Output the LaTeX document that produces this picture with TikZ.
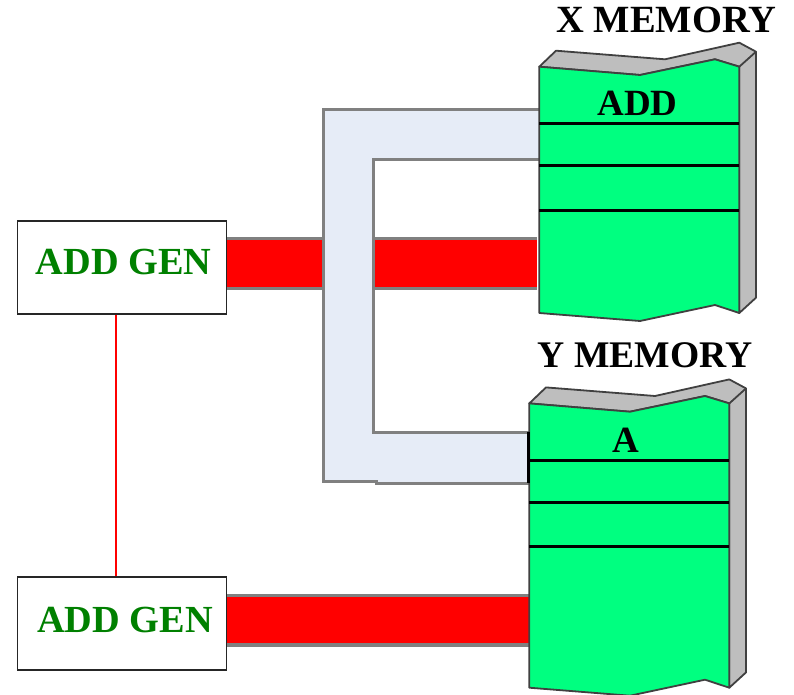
\documentclass[tikz,border=0pt]{standalone}
\usepackage{fontspec}
\setmainfont{Liberation Serif}
\usetikzlibrary{calc,positioning}

\definecolor{memgreen}{HTML}{00FF80}
\definecolor{memside}{HTML}{BEBEBE}
\definecolor{busblue}{HTML}{E6ECF7}
\definecolor{busedge}{HTML}{808080}
\definecolor{gentext}{HTML}{008000}

\tikzset{
  genbox/.style={draw=black!85,line width=1.8pt,fill=white,minimum width=209pt,minimum height=93pt,inner sep=0,text depth=10pt,text=gentext,font=\fontsize{38.3}{38}\selectfont\bfseries},
  memlabel/.style={anchor=base,inner sep=0,font=\fontsize{38.5}{38}\selectfont\bfseries},
  rowlabel/.style={anchor=base,inner sep=0,font=\fontsize{37}{37}\selectfont\bfseries},
  memline/.style={draw=black!75,line width=1.8pt,line join=round},
  rowline/.style={black,line width=3pt},
}

% #1 = shift, #2 = height added to the lower edge
\newcommand{\drawmemory}[2]{
\begin{scope}[shift={(#1)}]
\fill[memside,memline] (539.3,66.7) -- (556,50.7) -- (665,59.3) -- (739.3,42.7) -- (756,51.7) -- (756,297.7+#2) -- (739.3,313+#2) -- (739.3,66.7) -- (715,59.3) -- (640,75) -- cycle;
\fill[memgreen,memline] (539.3,66.7) -- (640,75) -- (715,59.3) -- (739.3,66.7) -- (739.3,313+#2) -- (715,305+#2) -- (640,321+#2) -- (539.3,313+#2) -- cycle;
\draw[memline] (739.3,66.7) -- (756,51.7);
\draw[rowline] (539.3,123.3) -- (739.3,123.3);
\draw[rowline] (539.3,165.7) -- (739.3,165.7);
\draw[rowline] (539.3,210) -- (739.3,210);
\end{scope}
}

\begin{document}
\begin{tikzpicture}[x=1pt,y=-1pt]
\useasboundingbox (0,0) rectangle (794,695);

% Nodes
\node[genbox] (gen1) at (122,267.3) {\hspace*{3pt}ADD GEN};
\node[genbox,text depth=7pt] (gen2) at (122,623.5) {\hspace*{6pt}ADD GEN};
\coordinate (link) at (115.6,450);
\coordinate (xbus-end) at (537,263.5);
\coordinate (ybus-end) at (529,620);

% The link between the generators
\draw[red,line width=1.8pt] (gen1.south -| link) -- (gen2.north -| link);

% The red buses
\draw[busedge,line width=53pt] (gen1.east |- xbus-end) -- (xbus-end);
\draw[red,line width=46.5pt] (gen1.east |- xbus-end) -- (xbus-end);
\draw[busedge,line width=53pt] (gen2.east |- ybus-end) -- (ybus-end);
\draw[red,line width=46.5pt] (gen2.east |- ybus-end) -- (ybus-end);

% The shared bus
\fill[busblue,draw=busedge,line width=3pt] (541,110) -- (323,110) -- (323,481) -- (376,481) -- (376,483) -- (530,483) -- (530,432.5) -- (373,432.5) -- (373,160) -- (541,160);

% The memories
\drawmemory{0,0}{0}
\drawmemory{-10,336.7}{38}
\draw[black,line width=3pt] (528.5,432) -- (528.5,483);

% Memory names
\node[memlabel] (xmem-name) at (666.5,33) {X MEMORY};
\node[memlabel,font=\fontsize{37.6}{38}\selectfont\bfseries] (ymem-name) at (645,367) {Y MEMORY};
\node[rowlabel] (add-row) at (637.5,116) {ADD};
\node[rowlabel] (a-row) at (625.5,452) {A};

\end{tikzpicture}
\end{document}
